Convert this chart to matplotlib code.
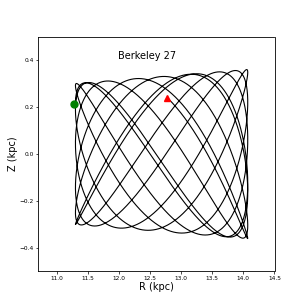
import numpy as np
import matplotlib
matplotlib.use("Agg")
import matplotlib.pyplot as plt

# ---------- orbit data ----------
cluster_name = "Berkeley 27"
r_peri = 11.30          # kpc, inner radial turning point
r_apo = 14.07           # kpc, outer radial turning point
z_max_peri = 0.300      # kpc, vertical amplitude near pericentre
z_max_apo = 0.360       # kpc, vertical amplitude near apocentre
freq_ratio = 1.6324     # vertical / radial frequency
n_radial_periods = 6.74 # length of the integrated orbit
z_phase = 0.797         # rad, vertical phase at start

start_point = (11.28, 0.215)   # green circle
end_point = (12.77, 0.240)     # red triangle

x_ticks = [11.0, 11.5, 12.0, 12.5, 13.0, 13.5, 14.0, 14.5]
y_ticks = [-0.4, -0.2, 0.0, 0.2, 0.4]

# ---------- orbit track ----------
t = np.linspace(0, 2 * np.pi * n_radial_periods, 8000)
r_c = 0.5 * (r_peri + r_apo)
r_a = 0.5 * (r_apo - r_peri)
R = r_c - r_a * np.cos(t)
z_amp = z_max_peri + (R - r_peri) / (r_apo - r_peri) * (z_max_apo - z_max_peri)
Z = z_amp * np.sin(freq_ratio * t + z_phase)

# ---------- plot ----------
fig = plt.figure(figsize=(3.05, 3.05), dpi=100)
ax = fig.add_subplot(111)

ax.plot(R, Z, color="black", linewidth=0.8)
ax.plot(*start_point, "o", color="green", markersize=5)
ax.plot(*end_point, "^", color="red", markersize=5)

ax.text(12.45, 0.418, cluster_name, fontsize=7, ha="center", va="center")

ax.set_xlim(10.7, 14.5)
ax.set_ylim(-0.5, 0.5)
ax.set_xticks(x_ticks)
ax.set_yticks(y_ticks)
ax.tick_params(labelsize=4.2, length=1.8, width=0.5, pad=1.5)
for s in ax.spines.values():
    s.set_linewidth(0.6)

ax.set_xlabel("R (kpc)", fontsize=7, labelpad=1)
ax.set_ylabel("Z (kpc)", fontsize=7, labelpad=1)

fig.savefig("out.png", dpi=100)
